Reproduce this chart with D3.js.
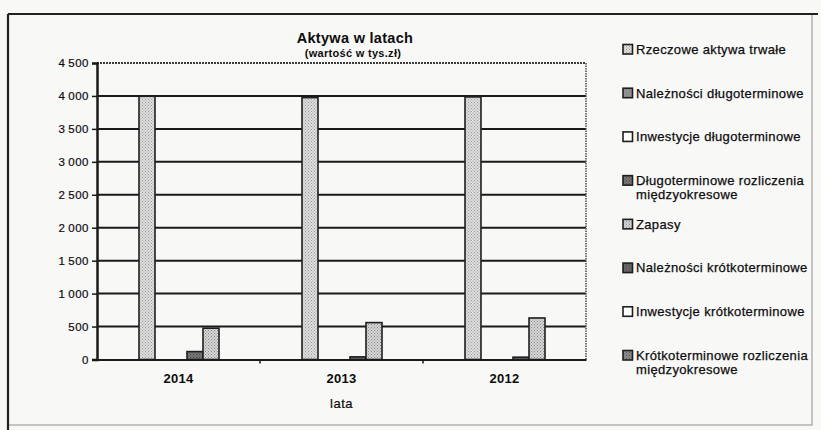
<!DOCTYPE html>
<html>
<head>
<meta charset="utf-8">
<script src="https://cdn.jsdelivr.net/npm/d3@7/dist/d3.min.js"></script>
<style>
  html, body { margin: 0; padding: 0; background: #f8f8f7; }
  svg { display: block; }
  text { font-family: "Liberation Sans", Arial, sans-serif; fill: #0d0d0d; }
</style>
</head>
<body>
<svg id="chart" width="821" height="430"></svg>
<script>
// ---- data ----
const years = ["2014", "2013", "2012"];
const seriesNames = [
  "Rzeczowe aktywa trwałe",
  "Należności długoterminowe",
  "Inwestycje długoterminowe",
  "Długoterminowe rozliczenia międzyokresowe",
  "Zapasy",
  "Należności krótkoterminowe",
  "Inwestycje krótkoterminowe",
  "Krótkoterminowe rozliczenia międzyokresowe"
];
const rzeczoweAktywaTrwale = [3995, 3975, 3985];
const naleznosciDlugoterminowe = [0, 0, 0];
const inwestycjeDlugoterminowe = [0, 0, 0];
const rozliczeniaDlugoterminowe = [120, 40, 35];
const zapasy = [475, 560, 630];
const naleznosciKrotkoterminowe = [0, 0, 0];
const inwestycjeKrotkoterminowe = [0, 0, 0];
const rozliczeniaKrotkoterminowe = [0, 0, 0];
const yTicks = [0, 500, 1000, 1500, 2000, 2500, 3000, 3500, 4000, 4500];
const titleText = "Aktywa w latach";
const subtitleText = "(wartość w tys.zł)";
const xAxisTitle = "lata";

const seriesValues = [
  rzeczoweAktywaTrwale, naleznosciDlugoterminowe, inwestycjeDlugoterminowe,
  rozliczeniaDlugoterminowe, zapasy, naleznosciKrotkoterminowe,
  inwestycjeKrotkoterminowe, rozliczeniaKrotkoterminowe
];

// ---- styling ----
const fills = ["url(#p0)", "url(#p1)", "#ffffff", "url(#p3)", "url(#p4)", "url(#p5)", "#ffffff", "url(#p7)"];

const svg = d3.select("#chart");
const defs = svg.append("defs");
function dotPattern(id, bg, dot, step) {
  const p = defs.append("pattern").attr("id", id).attr("patternUnits", "userSpaceOnUse")
    .attr("width", step).attr("height", step);
  p.append("rect").attr("width", step).attr("height", step).attr("fill", bg);
  p.append("rect").attr("x", 0).attr("y", 0).attr("width", 1).attr("height", 1).attr("fill", dot);
  p.append("rect").attr("x", step / 2).attr("y", step / 2).attr("width", 1).attr("height", 1).attr("fill", dot);
}
dotPattern("p0", "#dedede", "#9a9a9a", 3);
dotPattern("p1", "#9a9a9a", "#6a6a6a", 3);
dotPattern("p3", "#7a7a7a", "#444", 3);
dotPattern("p4", "#d6d6d6", "#8a8a8a", 3);
dotPattern("p5", "#6e6e6e", "#3a3a3a", 3);
dotPattern("p7", "#8e8e8e", "#555", 3);

// page background & frame
svg.append("rect").attr("x", 0).attr("y", 0).attr("width", 821).attr("height", 430).attr("fill", "#f8f8f7");
svg.append("rect").attr("x", 8).attr("y", 14).attr("width", 804).attr("height", 411)
  .attr("fill", "none").attr("stroke", "#777").attr("stroke-width", 0.8);
svg.append("line").attr("x1", 8).attr("x2", 818).attr("y1", 14).attr("y2", 14)
  .attr("stroke", "#222").attr("stroke-width", 2.2);
svg.append("line").attr("x1", 8).attr("x2", 8).attr("y1", 14).attr("y2", 430)
  .attr("stroke", "#222").attr("stroke-width", 2.2);

// ---- scales ----
const plotLeft = 97, plotRight = 586, plotTop = 63, plotBottom = 359.5;
const x0 = d3.scaleBand().domain(years).range([plotLeft, plotRight]).paddingInner(0).paddingOuter(0);
const x1 = d3.scaleBand().domain(seriesNames).range([42, 42 + 16 * seriesNames.length]).padding(0);
const y = d3.scaleLinear().domain([0, 4500]).range([plotBottom, plotTop]);

// gridlines
const g = svg.append("g");
g.selectAll("line.grid").data(yTicks.filter(d => d > 0)).join("line")
  .attr("class", "grid")
  .attr("x1", plotLeft).attr("x2", plotRight)
  .attr("y1", d => y(d)).attr("y2", d => y(d))
  .attr("stroke", d => d === 4500 ? "#3a3a3a" : "#1a1a1a")
  .attr("stroke-width", 2)
  .attr("stroke-dasharray", d => d === 4500 ? "2,1" : null);
// right border of plot
g.append("line").attr("x1", plotRight).attr("x2", plotRight).attr("y1", plotTop).attr("y2", plotBottom)
  .attr("stroke", "#555").attr("stroke-width", 1.6).attr("stroke-dasharray", "1.5,1");

// y axis
const yAxis = d3.axisLeft(y).tickValues(yTicks).tickSize(5).tickPadding(3)
  .tickFormat(d => d3.format(",")(d).replace(/,/g, "\u2009"));
const ya = svg.append("g").attr("transform", `translate(${plotLeft},0)`).call(yAxis);
ya.select(".domain").attr("stroke", "#1a1a1a").attr("stroke-width", 2.5);
ya.selectAll(".tick line").attr("stroke", "#1a1a1a").attr("stroke-width", 1.5);
ya.selectAll(".tick text").attr("font-size", "11.5px").attr("letter-spacing", "0.5px")
  .attr("fill", "#0d0d0d").attr("stroke", "#0d0d0d").attr("stroke-width", 0.2)
  .style("font-family", "'Liberation Sans', Arial, sans-serif");

// bars
const groups = svg.append("g").selectAll("g.year").data(years).join("g")
  .attr("class", "year")
  .attr("transform", d => `translate(${x0(d)},0)`);
groups.selectAll("rect").data((yr, i) => seriesNames.map((s, k) => ({ s, k, v: seriesValues[k][i] })))
  .join("rect")
  .filter(d => d.v > 0)
  .attr("x", d => x1(d.s))
  .attr("width", x1.bandwidth())
  .attr("y", d => y(d.v))
  .attr("height", d => y(0) - y(d.v))
  .attr("fill", d => fills[d.k])
  .attr("stroke", "#1e1e1e")
  .attr("stroke-width", 1.6);

// x axis
const xAxis = d3.axisBottom(x0).tickSize(0).tickPadding(14);
const xa = svg.append("g").attr("transform", `translate(0,${plotBottom})`).call(xAxis);
xa.select(".domain").attr("stroke", "#1a1a1a").attr("stroke-width", 2.2);
xa.selectAll(".tick text").attr("font-size", "13px").attr("font-weight", "bold")
  .attr("letter-spacing", "0.3px").attr("fill", "#0d0d0d")
  .style("font-family", "'Liberation Sans', Arial, sans-serif");
// category boundary ticks
svg.append("g").selectAll("line").data(years.slice(1)).join("line")
  .attr("x1", d => x0(d)).attr("x2", d => x0(d))
  .attr("y1", plotBottom).attr("y2", plotBottom + 4)
  .attr("stroke", "#1a1a1a").attr("stroke-width", 1.5);

// axis title
svg.append("text").attr("x", (plotLeft + plotRight) / 2).attr("y", 408)
  .attr("text-anchor", "middle").attr("font-size", "13px").attr("letter-spacing", "0.5px")
  .attr("stroke", "#0d0d0d").attr("stroke-width", 0.2)
  .text(xAxisTitle);

// title
svg.append("text").attr("x", 355).attr("y", 43).attr("text-anchor", "middle")
  .attr("font-size", "14.5px").attr("font-weight", "bold").attr("letter-spacing", "0.3px")
  .text(titleText);
svg.append("text").attr("x", 353).attr("y", 56.5).attr("text-anchor", "middle")
  .attr("font-size", "11px").attr("font-weight", "bold").attr("letter-spacing", "0.3px")
  .text(subtitleText);

// legend
const legendLines = [
  ["Rzeczowe aktywa trwałe"],
  ["Należności długoterminowe"],
  ["Inwestycje długoterminowe"],
  ["Długoterminowe rozliczenia", "międzyokresowe"],
  ["Zapasy"],
  ["Należności krótkoterminowe"],
  ["Inwestycje krótkoterminowe"],
  ["Krótkoterminowe rozliczenia", "międzyokresowe"]
];
const legendY = d3.scalePoint().domain(seriesNames).range([49, 355]);
const leg = svg.append("g").selectAll("g").data(seriesNames).join("g")
  .attr("transform", d => `translate(623,${legendY(d)})`);
leg.append("rect").attr("x", 0).attr("y", -4.5).attr("width", 9.5).attr("height", 9.5)
  .attr("fill", (d, i) => fills[i]).attr("stroke", "#1e1e1e").attr("stroke-width", 1.6);
leg.each(function (d, i) {
  const t = d3.select(this).append("text").attr("x", 13).attr("y", 4.8)
    .attr("font-size", "13px").attr("letter-spacing", "0.35px")
    .attr("stroke", "#0d0d0d").attr("stroke-width", 0.25);
  legendLines[i].forEach((line, j) => {
    t.append("tspan").attr("x", 13).attr("dy", j === 0 ? 0 : 14).text(line);
  });
});
</script>
</body>
</html>
